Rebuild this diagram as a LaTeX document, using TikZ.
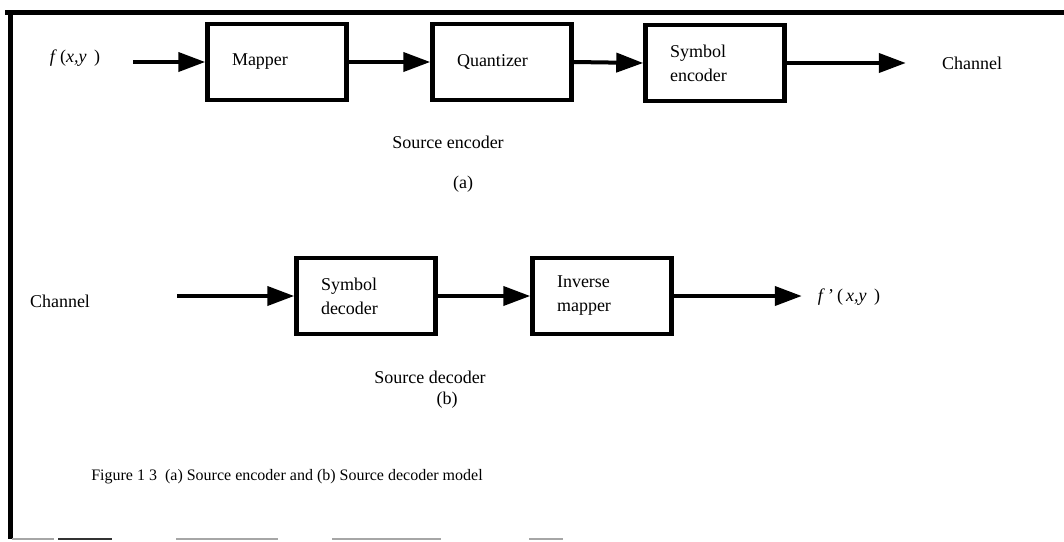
\documentclass[tikz,border=0pt]{standalone}
\usepackage{fontspec}
\setmainfont{Liberation Serif}
\usetikzlibrary{arrows.meta}
\begin{document}
\begin{tikzpicture}[x=1pt,y=-1pt,
  lbl/.style={font=\fontsize{18}{24}\selectfont, inner sep=0pt},
  blk/.style={draw, line width=4.5pt, minimum width=139pt, minimum height=76pt,
    text width=90pt, align=left, inner xsep=0pt, font=\fontsize{18}{24}\selectfont},
  arr/.style={line width=4pt, -{Triangle[length=27pt,width=19pt]}},
  frame/.style={line width=5pt},
  scanline/.style={line width=2pt, black!35}]
\useasboundingbox (0,0) rectangle (1064,541);
% frame
\draw[frame] (5,12) -- (1064,12);
\draw[frame] (10,10) -- (10,539);
\draw[scanline] (12,539) -- (54,539);
\draw[line width=2.5pt, black!80] (58,539) -- (112,539);
\draw[scanline] (176,539) -- (278,539);
\draw[scanline] (332,539) -- (441,539);
\draw[scanline] (529,539) -- (563,539);
% (a) encoder
\node[lbl] (fxy) at (75,58) {\textit{f}\,(\textit{x,y}\, )};
\node[blk] (mapper) at (277,62) {Mapper};
\node[blk] (quant) at (502,62) {Quantizer};
\node[blk] (senc) at (715,63) {Symbol\\encoder};
\node[lbl] (chout) at (972,63) {Channel};
\draw[arr] ([xshift=33pt]fxy.east |- mapper.west) -- (mapper.west);
\draw[arr] (mapper.east) -- (quant.west);
\draw[arr] (quant.east) -- (senc.west);
\draw[arr] (senc.east) -- ([xshift=-36pt]chout.west);
\node[lbl] (srcenc) at (448,142) {Source encoder};
\node[lbl] (capa) at (463,184) {(a)};
% (b) decoder
\node[lbl] (chin) at (60,301) {Channel};
\node[blk] (sdec) at (366,296) {Symbol\\decoder};
\node[blk] (imap) at (602,296) {Inverse\\mapper};
\node[lbl] (fout) at (849,297) {\textit{f}\,'\,(\,\textit{x,y}\, )};
\draw[arr] ([xshift=87pt]chin.east |- sdec.west) -- (sdec.west);
\draw[arr] (sdec.east) -- (imap.west);
\draw[arr] (imap.east) -- ([xshift=-16pt]fout.west |- imap.east);
\node[lbl] (srcdec) at (430,377) {Source decoder};
\node[lbl] (capb) at (447,400) {(b)};
% caption
\node[lbl, font=\fontsize{16}{20}\selectfont] (cap) at (287,477) {Figure 1 3\ \ (a) Source encoder and (b) Source decoder model};
\end{tikzpicture}
\end{document}
